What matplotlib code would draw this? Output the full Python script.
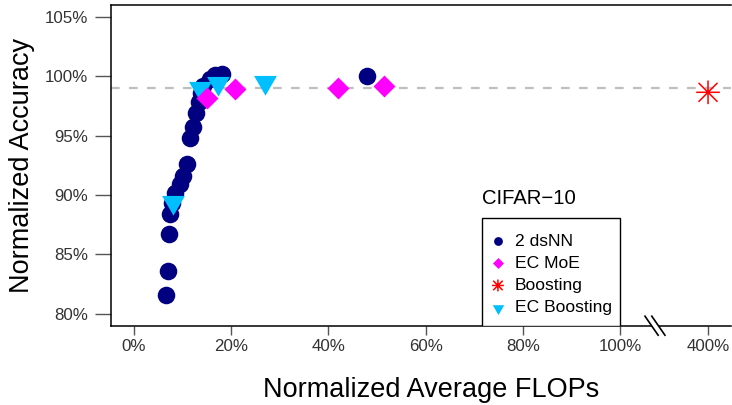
import numpy as np
import matplotlib
matplotlib.use('Agg')
import matplotlib.pyplot as plt
from matplotlib.path import Path
from matplotlib.patches import Rectangle

plt.rcParams['font.family'] = ['Liberation Sans', 'DejaVu Sans']

# values in percent (x = normalized average FLOPs, y = normalized accuracy)
dsnn_x = [6.6, 7.0, 7.3, 7.5, 7.8, 8.5, 9.5, 10.2, 10.9, 11.5, 12.2, 12.9, 13.5,
          13.9, 14.3, 15.7, 16.7, 18.1, 48.0]
dsnn_y = [81.6, 83.6, 86.7, 88.4, 89.3, 90.2, 90.9, 91.6, 92.65, 94.8, 95.7, 96.9, 97.8,
          98.6, 99.2, 99.8, 100.1, 100.2, 100.0]
moe_x = [15.0, 20.8, 42.0, 51.4]
moe_y = [98.2, 98.9, 99.0, 99.2]
boost_x = [400]
boost_y = [98.65]
ecb_x = [8.1, 13.6, 17.4, 27.0]
ecb_y = [89.4, 99.0, 99.45, 99.5]
ref_acc = 99.0

xticks = [0, 20, 40, 60, 80, 100, 400]
yticks = [80, 85, 90, 95, 100, 105]
BREAK_POS = 1.18  # where 400% sits on the broken axis


def xpos(v):
    v = np.asarray(v, dtype=float)
    return np.where(v <= 100, v / 100.0, BREAK_POS)


NAVY = '#000080'
MAG = '#FF00FF'
RED = '#FF0000'
SKY = '#00BFFF'

tri = Path([(-1, 0.577), (1, 0.577), (0, -1.155), (-1, 0.577)])
star = Path([(-1, 0), (1, 0), (0, -1), (0, 1), (-0.8, -0.8), (0.8, 0.8), (-0.8, 0.8), (0.8, -0.8)],
            [Path.MOVETO, Path.LINETO] * 4)

fig = plt.figure(figsize=(7.32, 4.05), dpi=100)
ax = fig.add_axes([110.7 / 732, 79.3 / 405, 620.3 / 732, 320.7 / 405])

ax.axhline(ref_acc, color='#BEBEBE', lw=1.6, dashes=(3.9, 4.2), zorder=1)

h1 = ax.scatter(xpos(dsnn_x), dsnn_y, s=160, marker='o', color=NAVY, lw=0, zorder=3, label='2 dsNN')
h4 = ax.scatter(xpos(ecb_x), ecb_y, s=360, marker=tri, color=SKY, lw=0, zorder=4, label='EC Boosting')
h2 = ax.scatter(xpos(moe_x), moe_y, s=125, marker='D', color=MAG, lw=0, zorder=5, label='EC MoE')
h3 = ax.scatter(xpos(boost_x), boost_y, s=290, marker=star, facecolor='none', edgecolor=RED,
                lw=1.1, zorder=5, label='Boosting')

ax.set_xlim(-0.0472, 1.2272)
ax.set_ylim(79, 106)

ax.set_xticks(xpos(xticks))
ax.set_xticklabels([f'{t}%' for t in xticks])
ax.set_yticks(yticks)
ax.set_yticklabels([f'{t}%' for t in yticks])
ax.tick_params(axis='x', length=6.5, width=1, color='#555555', labelcolor='#333333',
               labelsize=12.2, pad=3)
ax.tick_params(axis='y', length=11.3, width=1, color='#555555', labelcolor='#333333',
               labelsize=12.2, pad=5)

ax.spines['right'].set_visible(False)
for s in ['left', 'top', 'bottom']:
    ax.spines[s].set_linewidth(1.1)
    ax.spines[s].set_color('black')

# axis break marks between 100% and 400%
bx = 1.071
bw, bh, off = 0.0135, 0.8, 0.007
ax.fill([bx - off - bw, bx - off + bw, bx + off + bw, bx + off - bw],
        [79 + bh, 79 - bh, 79 - bh, 79 + bh], color='white', lw=0, zorder=6, clip_on=False)
for dx in (-off, off):
    ax.plot([bx + dx - bw, bx + dx + bw], [79 + bh, 79 - bh], color='black', lw=1.2,
            zorder=7, clip_on=False)

# legend box sits on the x axis, right edge at 100%
ax.add_patch(Rectangle((0.7157, 79), 1.0 - 0.7157, 88.04 - 79, facecolor='white',
                       edgecolor='black', lw=1.0, zorder=7))
leg = ax.legend(handles=[h1, h2, h3, h4], loc='upper left', bbox_to_anchor=(0.734, 86.75),
                bbox_transform=ax.transData, borderaxespad=0, borderpad=0, fontsize=12.6,
                markerscale=0.5, handlelength=0.8, handletextpad=0.55,
                labelspacing=0.39, frameon=False)
leg.set_zorder(8)

ax.text(0.7157, 89.7, 'CIFAR\u221210', fontsize=14.6, ha='left', va='center')

fig.text(431 / 732, 1 - 390 / 405, 'Normalized Average FLOPs', fontsize=19.5,
         ha='center', va='center')
fig.text(22 / 732, 1 - 165.5 / 405, 'Normalized Accuracy', fontsize=19.5,
         ha='center', va='center', rotation=90)

fig.savefig('out.png', dpi=100)
